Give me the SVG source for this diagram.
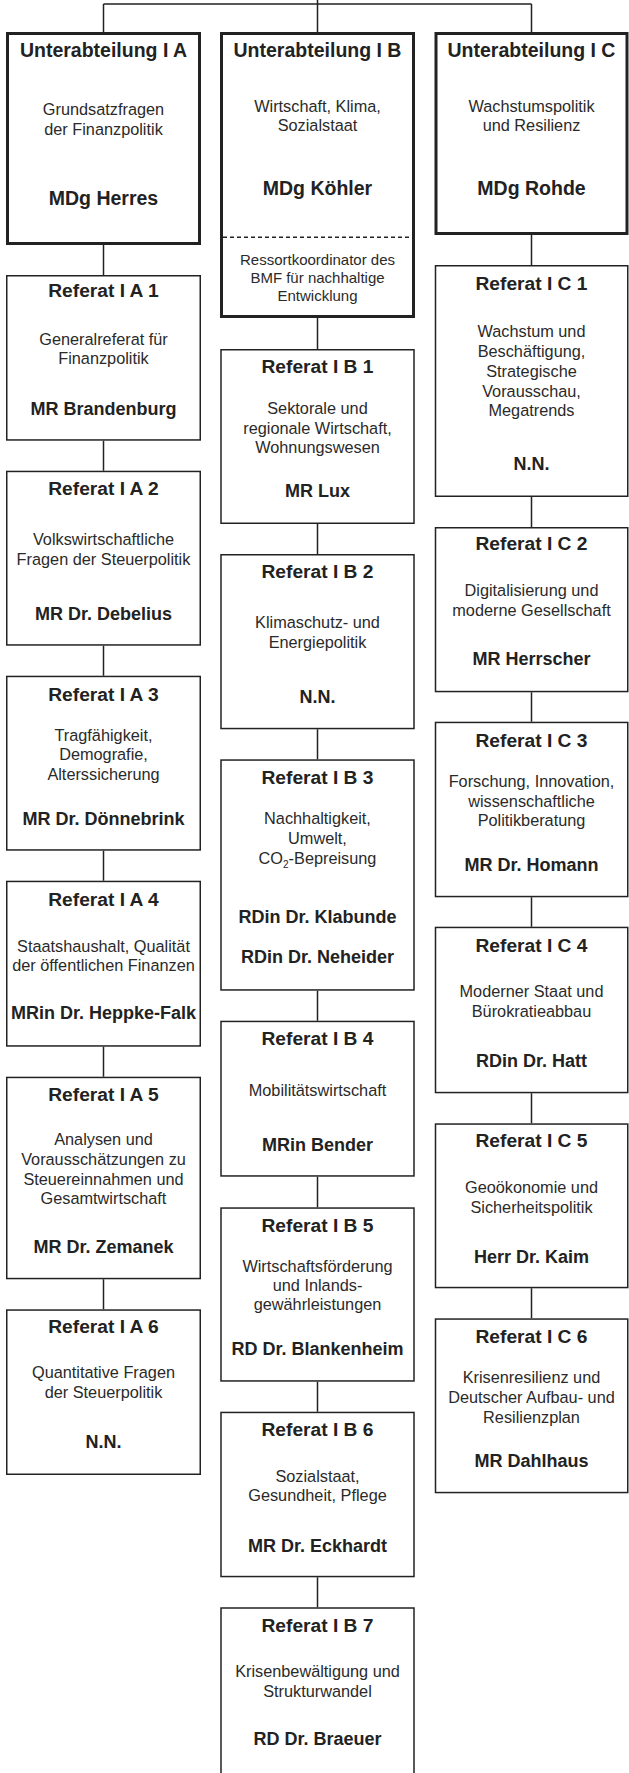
<svg xmlns="http://www.w3.org/2000/svg" width="629" height="1773" viewBox="0 0 629 1773">
<style>
.ua{fill:#fff;stroke:#222;stroke-width:3}
.rf{fill:#fff;stroke:#222;stroke-width:1.5}
.cn{fill:none;stroke:#222;stroke-width:1.5}
.dash{fill:none;stroke:#222;stroke-width:1.5;stroke-dasharray:4 3}
text{font-family:"Liberation Sans",Arial,Helvetica,sans-serif;fill:#222;text-anchor:middle}
.h{font-size:19.5px;font-weight:bold}
.t{font-size:19.2px;font-weight:bold}
.b{font-size:16.3px;fill:#2a2a2a}
.s{font-size:15px;fill:#2a2a2a}
.n{font-size:18px;font-weight:bold}
.m{font-size:19.5px;font-weight:bold}
</style>
<rect width="629" height="1773" fill="#fff"/>
<g id="connectors">
<path class="cn" d="M317.5 0V32M103.5 4H531.5M103.5 4V32M531.5 4V32"/>
<path class="cn" d="M103.5 245V275M103.5 440.7V470.7M103.5 645.7V675.7M103.5 850.7V880.7M103.5 1046.7V1076.7M103.5 1279.3V1309.3"/>
<path class="cn" d="M317.5 318V349M317.5 524V554M317.5 729.3V759.3M317.5 990.7V1020.7M317.5 1176.7V1207.3M317.5 1381.7V1411.7M317.5 1577.3V1607.3"/>
<path class="cn" d="M531.5 235V265M531.5 497V527M531.5 692.3V721.7M531.5 897.3V926.7M531.5 1093.3V1123.3M531.5 1288.3V1318.3"/>
</g>
<g id="ua-a">
<rect class="ua" x="7.5" y="33.5" width="192" height="210"/>
<text class="h" x="103.5" y="57">Unterabteilung I A</text>
<text class="b" x="103.5" y="115">Grundsatzfragen</text>
<text class="b" x="103.5" y="135">der Finanzpolitik</text>
<text class="m" x="103.5" y="205">MDg Herres</text>
</g>
<g id="ua-b">
<rect class="ua" x="221.5" y="33.5" width="192" height="283"/>
<line class="dash" x1="223" y1="237.3" x2="412" y2="237.3"/>
<text class="h" x="317.5" y="57">Unterabteilung I B</text>
<text class="b" x="317.5" y="112">Wirtschaft, Klima,</text>
<text class="b" x="317.5" y="131">Sozialstaat</text>
<text class="m" x="317.5" y="195">MDg Köhler</text>
<text class="s" x="317.5" y="265">Ressortkoordinator des</text>
<text class="s" x="317.5" y="283">BMF für nachhaltige</text>
<text class="s" x="317.5" y="301">Entwicklung</text>
</g>
<g id="ua-c">
<rect class="ua" x="436" y="33.5" width="191" height="200"/>
<text class="h" x="531.5" y="57">Unterabteilung I C</text>
<text class="b" x="531.5" y="112">Wachstumspolitik</text>
<text class="b" x="531.5" y="131">und Resilienz</text>
<text class="m" x="531.5" y="195">MDg Rohde</text>
</g>
<g id="ia1">
<rect class="rf" x="6.75" y="275.75" width="193.5" height="164.2"/>
<text class="t" x="103.5" y="297">Referat I A 1</text>
<text class="b" x="103.5" y="345">Generalreferat für</text>
<text class="b" x="103.5" y="364">Finanzpolitik</text>
<text class="n" x="103.5" y="415">MR Brandenburg</text>
</g>
<g id="ia2">
<rect class="rf" x="6.75" y="471.45" width="193.5" height="173.5"/>
<text class="t" x="103.5" y="495">Referat I A 2</text>
<text class="b" x="103.5" y="545">Volkswirtschaftliche</text>
<text class="b" x="103.5" y="565">Fragen der Steuerpolitik</text>
<text class="n" x="103.5" y="620">MR Dr. Debelius</text>
</g>
<g id="ia3">
<rect class="rf" x="6.75" y="676.45" width="193.5" height="173.5"/>
<text class="t" x="103.5" y="700.7">Referat I A 3</text>
<text class="b" x="103.5" y="740.7">Tragfähigkeit,</text>
<text class="b" x="103.5" y="760.4">Demografie,</text>
<text class="b" x="103.5" y="780">Alterssicherung</text>
<text class="n" x="103.5" y="825">MR Dr. Dönnebrink</text>
</g>
<g id="ia4">
<rect class="rf" x="6.75" y="881.45" width="193.5" height="164.5"/>
<text class="t" x="103.5" y="905.7">Referat I A 4</text>
<text class="b" x="103.5" y="951.7">Staatshaushalt, Qualität</text>
<text class="b" x="103.5" y="970.5">der öffentlichen Finanzen</text>
<text class="n" x="103.5" y="1019.3">MRin Dr. Heppke-Falk</text>
</g>
<g id="ia5">
<rect class="rf" x="6.75" y="1077.45" width="193.5" height="201.1"/>
<text class="t" x="103.5" y="1100.7">Referat I A 5</text>
<text class="b" x="103.5" y="1145">Analysen und</text>
<text class="b" x="103.5" y="1165">Vorausschätzungen zu</text>
<text class="b" x="103.5" y="1185">Steuereinnahmen und</text>
<text class="b" x="103.5" y="1204">Gesamtwirtschaft</text>
<text class="n" x="103.5" y="1252.7">MR Dr. Zemanek</text>
</g>
<g id="ia6">
<rect class="rf" x="6.75" y="1310.05" width="193.5" height="164.2"/>
<text class="t" x="103.5" y="1333.3">Referat I A 6</text>
<text class="b" x="103.5" y="1378.3">Quantitative Fragen</text>
<text class="b" x="103.5" y="1398.3">der Steuerpolitik</text>
<text class="n" x="103.5" y="1448.3">N.N.</text>
</g>
<g id="ib1">
<rect class="rf" x="221" y="349.75" width="193" height="173.5"/>
<text class="t" x="317.5" y="373">Referat I B 1</text>
<text class="b" x="317.5" y="414">Sektorale und</text>
<text class="b" x="317.5" y="434">regionale Wirtschaft,</text>
<text class="b" x="317.5" y="453">Wohnungswesen</text>
<text class="n" x="317.5" y="497">MR Lux</text>
</g>
<g id="ib2">
<rect class="rf" x="221" y="554.75" width="193" height="173.8"/>
<text class="t" x="317.5" y="578">Referat I B 2</text>
<text class="b" x="317.5" y="628">Klimaschutz- und</text>
<text class="b" x="317.5" y="648">Energiepolitik</text>
<text class="n" x="317.5" y="702.7">N.N.</text>
</g>
<g id="ib3">
<rect class="rf" x="221" y="760.05" width="193" height="229.9"/>
<text class="t" x="317.5" y="784">Referat I B 3</text>
<text class="b" x="317.5" y="824">Nachhaltigkeit,</text>
<text class="b" x="317.5" y="843.7">Umwelt,</text>
<text class="b" x="317.5" y="864">CO<tspan font-size="10" dy="4">2</tspan><tspan dy="-4">-Bepreisung</tspan></text>
<text class="n" x="317.5" y="922.7">RDin Dr. Klabunde</text>
<text class="n" x="317.5" y="963.3">RDin Dr. Neheider</text>
</g>
<g id="ib4">
<rect class="rf" x="221" y="1021.45" width="193" height="154.5"/>
<text class="t" x="317.5" y="1045">Referat I B 4</text>
<text class="b" x="317.5" y="1096">Mobilitätswirtschaft</text>
<text class="n" x="317.5" y="1150.7">MRin Bender</text>
</g>
<g id="ib5">
<rect class="rf" x="221" y="1208.05" width="193" height="172.9"/>
<text class="t" x="317.5" y="1231.7">Referat I B 5</text>
<text class="b" x="317.5" y="1271.7">Wirtschaftsförderung</text>
<text class="b" x="317.5" y="1290.7">und Inlands-</text>
<text class="b" x="317.5" y="1310.4">gewährleistungen</text>
<text class="n" x="317.5" y="1355">RD Dr. Blankenheim</text>
</g>
<g id="ib6">
<rect class="rf" x="221" y="1412.45" width="193" height="164.1"/>
<text class="t" x="317.5" y="1436">Referat I B 6</text>
<text class="b" x="317.5" y="1481.7">Sozialstaat,</text>
<text class="b" x="317.5" y="1501">Gesundheit, Pflege</text>
<text class="n" x="317.5" y="1551.7">MR Dr. Eckhardt</text>
</g>
<g id="ib7">
<path class="rf" d="M221 1773V1608.05H414V1773"/>
<text class="t" x="317.5" y="1632">Referat I B 7</text>
<text class="b" x="317.5" y="1677.3">Krisenbewältigung und</text>
<text class="b" x="317.5" y="1696.7">Strukturwandel</text>
<text class="n" x="317.5" y="1745">RD Dr. Braeuer</text>
</g>
<g id="ic1">
<rect class="rf" x="435.5" y="265.75" width="192.25" height="230.5"/>
<text class="t" x="531.5" y="290">Referat I C 1</text>
<text class="b" x="531.5" y="337">Wachstum und</text>
<text class="b" x="531.5" y="357">Beschäftigung,</text>
<text class="b" x="531.5" y="377">Strategische</text>
<text class="b" x="531.5" y="396.5">Vorausschau,</text>
<text class="b" x="531.5" y="416">Megatrends</text>
<text class="n" x="531.5" y="470">N.N.</text>
</g>
<g id="ic2">
<rect class="rf" x="435.5" y="527.75" width="192.25" height="163.8"/>
<text class="t" x="531.5" y="550">Referat I C 2</text>
<text class="b" x="531.5" y="596">Digitalisierung und</text>
<text class="b" x="531.5" y="616">moderne Gesellschaft</text>
<text class="n" x="531.5" y="665">MR Herrscher</text>
</g>
<g id="ic3">
<rect class="rf" x="435.5" y="722.45" width="192.25" height="174.1"/>
<text class="t" x="531.5" y="746.7">Referat I C 3</text>
<text class="b" x="531.5" y="786.7">Forschung, Innovation,</text>
<text class="b" x="531.5" y="806.7">wissenschaftliche</text>
<text class="b" x="531.5" y="826">Politikberatung</text>
<text class="n" x="531.5" y="870.7">MR Dr. Homann</text>
</g>
<g id="ic4">
<rect class="rf" x="435.5" y="927.45" width="192.25" height="165.1"/>
<text class="t" x="531.5" y="951.7">Referat I C 4</text>
<text class="b" x="531.5" y="996.7">Moderner Staat und</text>
<text class="b" x="531.5" y="1016.7">Bürokratieabbau</text>
<text class="n" x="531.5" y="1066.7">RDin Dr. Hatt</text>
</g>
<g id="ic5">
<rect class="rf" x="435.5" y="1124.05" width="192.25" height="163.5"/>
<text class="t" x="531.5" y="1147.3">Referat I C 5</text>
<text class="b" x="531.5" y="1192.7">Geoökonomie und</text>
<text class="b" x="531.5" y="1212.7">Sicherheitspolitik</text>
<text class="n" x="531.5" y="1262.7">Herr Dr. Kaim</text>
</g>
<g id="ic6">
<rect class="rf" x="435.5" y="1319.05" width="192.25" height="173.5"/>
<text class="t" x="531.5" y="1343.3">Referat I C 6</text>
<text class="b" x="531.5" y="1382.7">Krisenresilienz und</text>
<text class="b" x="531.5" y="1402.7">Deutscher Aufbau- und</text>
<text class="b" x="531.5" y="1422.7">Resilienzplan</text>
<text class="n" x="531.5" y="1467.3">MR Dahlhaus</text>
</g>
</svg>
